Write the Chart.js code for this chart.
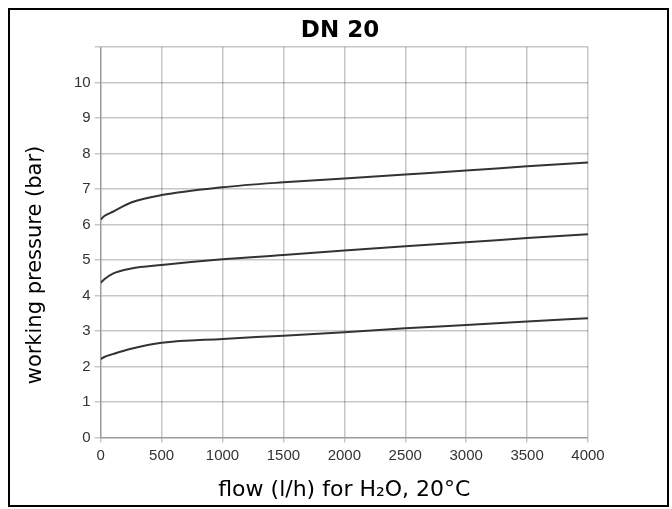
<!DOCTYPE html>
<html lang="en">
<head>
    <meta charset="UTF-8">
    <title>DN 20</title>
    <style>
        body { margin: 0; background: #fff; }
        .frame { position: absolute; left: 8px; top: 8px; width: 657px; height: 495px; border: 2px solid #000; }
        .wrap { position: absolute; left: 0; top: 0; width: 672px; height: 509px; }
    </style>
</head>
<body>
    <div class="frame"></div>
    <div class="wrap"><canvas id="chart" width="672" height="509"></canvas></div>
    <script src="https://cdn.jsdelivr.net/npm/chart.js"></script>
    <script>
        // flow (l/h) and working pressure (bar)
        const flow = [0, 30, 100, 250, 500, 1000, 1500, 2000, 2500, 3000, 3500, 4000];
        const upper = [6.14, 6.24, 6.36, 6.62, 6.83, 7.05, 7.19, 7.30, 7.41, 7.52, 7.64, 7.75];
        const middle = [4.36, 4.46, 4.62, 4.76, 4.86, 5.02, 5.14, 5.27, 5.39, 5.50, 5.62, 5.73];
        const lower = [2.21, 2.27, 2.35, 2.50, 2.67, 2.78, 2.87, 2.97, 3.08, 3.17, 3.27, 3.36];

        const toPoints = ys => flow.map((x, i) => ({ x: x, y: ys[i] }));
        const gridColor = 'rgba(0,0,0,0.22)';

        const curve = ys => ({
            data: toPoints(ys),
            borderColor: '#333',
            borderWidth: 2,
            pointRadius: 0,
            fill: false,
            cubicInterpolationMode: 'monotone'
        });

        // heading and y title sit off-centre in the original, so draw them by hand
        const titles = {
            id: 'titles',
            afterDraw(chart) {
                const ctx = chart.ctx;
                ctx.save();
                ctx.fillStyle = '#000';
                ctx.textAlign = 'center';
                ctx.textBaseline = 'middle';
                ctx.font = 'bold 23px "DejaVu Sans"';
                ctx.fillText('DN 20', 340, 31);
                ctx.translate(36, 265);
                ctx.rotate(-Math.PI / 2);
                ctx.font = '21px "DejaVu Sans"';
                ctx.fillText('working pressure (bar)', 0, 0);
                ctx.restore();
            }
        };

        new Chart(document.getElementById('chart'), {
            type: 'line',
            data: { datasets: [curve(upper), curve(middle), curve(lower)] },
            options: {
                responsive: false,
                animation: false,
                layout: { padding: { left: 70, right: 84, top: 47, bottom: 6 } },
                plugins: {
                    legend: { display: false },
                    tooltip: { enabled: false }
                },
                scales: {
                    x: {
                        type: 'linear',
                        min: 0,
                        max: 4000,
                        ticks: {
                            stepSize: 500,
                            color: '#333',
                            padding: 4,
                            font: { family: 'Liberation Sans', size: 15 },
                            callback: v => String(v)
                        },
                        grid: { color: gridColor, lineWidth: 1.5, tickLength: 5 },
                        border: { color: gridColor, width: 1.5 },
                        title: {
                            display: true,
                            text: 'flow (l/h) for H₂O, 20°C',
                            color: '#000',
                            font: { family: 'DejaVu Sans', size: 22 },
                            padding: { top: 8, bottom: 0 }
                        }
                    },
                    y: {
                        min: 0,
                        max: 11,
                        ticks: {
                            stepSize: 1,
                            color: '#333',
                            padding: 4,
                            font: { family: 'Liberation Sans', size: 15 },
                            callback: v => v > 10 ? '' : v
                        },
                        grid: { color: gridColor, lineWidth: 1.5, tickLength: 6 },
                        border: { color: gridColor, width: 1.5 }
                    }
                }
            },
            plugins: [titles]
        });
    </script>
</body>
</html>
